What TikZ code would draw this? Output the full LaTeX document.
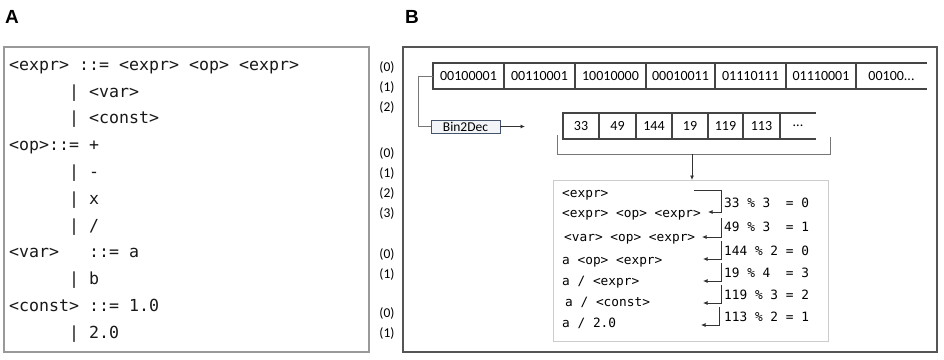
\documentclass[tikz,border=0pt]{standalone}
\usepackage{fontspec}
\setmainfont{Carlito}
\newfontfamily\codefont{DejaVu Sans Mono}
\newfontfamily\headfont{Liberation Sans}
\usetikzlibrary{arrows.meta}
\definecolor{arrline}{HTML}{444444}
\definecolor{conn}{HTML}{777777}
\definecolor{boxA}{HTML}{999999}
\definecolor{boxB}{HTML}{555555}
\definecolor{derivbox}{HTML}{CCCCCC}
\definecolor{bdborder}{HTML}{44546A}
\definecolor{bdfill}{HTML}{F2F4F7}
\begin{document}
\begin{tikzpicture}[x=1pt,y=-1pt,
  head/.style={font=\headfont\bfseries\fontsize{19}{19}\selectfont, inner sep=0pt},
  codeA/.style={font=\codefont\fontsize{16.6}{18}\selectfont, anchor=base west, inner sep=0pt, text=black!90},
  numlab/.style={font=\fontsize{13.5}{14}\selectfont, inner sep=0pt},
  cell/.style={font=\fontsize{14}{15}\selectfont, inner sep=0pt},
  codeB/.style={font=\codefont\fontsize{12.8}{14}\selectfont, anchor=base west, inner sep=0pt},
  arr/.style={draw=arrline, line width=1.1pt},
  tip/.style={-{Latex[length=4.5pt,width=4pt]}},
  brk/.style={draw=black!80, line width=0.8pt, tip}
]
\useasboundingbox (0,0) rectangle (944,359);
\fill[white] (0,0) rectangle (944,359);

% headings
\node[head] (hA) at (12,16.5) {A};
\node[head] (hB) at (412,16.5) {B};

% ---------- Panel A ----------
\draw[boxA, line width=1.3pt] (4,47) rectangle (369,352);
\node[codeA] (a1) at (9,70.5) {<expr>~::=~<expr>~<op>~<expr>};
\node[codeA] (a2) at (9,97) {~~~~~~|~<var>};
\node[codeA] (a3) at (9,123.5) {~~~~~~|~<const>};
\node[codeA] (a4) at (9,150.5) {<op>::=~+};
\node[codeA] (a5) at (9,177) {~~~~~~|~-};
\node[codeA] (a6) at (9,204) {~~~~~~|~x};
\node[codeA] (a7) at (9,231) {~~~~~~|~/};
\node[codeA] (a8) at (9,257.5) {<var>~~~::=~a};
\node[codeA] (a9) at (9,284.5) {~~~~~~|~b};
\node[codeA] (a10) at (9,311) {<const>~::=~1.0};
\node[codeA] (a11) at (9,338) {~~~~~~|~2.0};

% rule indices
\node[numlab] (n1) at (387,67) {(0)};
\node[numlab] (n2) at (387,87) {(1)};
\node[numlab] (n3) at (387,107) {(2)};
\node[numlab] (n4) at (387,153) {(0)};
\node[numlab] (n5) at (387,173) {(1)};
\node[numlab] (n6) at (387,193) {(2)};
\node[numlab] (n7) at (387,213) {(3)};
\node[numlab] (n8) at (387,254) {(0)};
\node[numlab] (n9) at (387,274) {(1)};
\node[numlab] (n10) at (387,313) {(0)};
\node[numlab] (n11) at (387,333) {(1)};

% ---------- Panel B ----------
\draw[boxB, line width=1.3pt] (403,47) rectangle (937,352);

% binary array
\draw[arr] (927,63) -- (433,63) -- (433,89) -- (927,89);
\foreach \x in {504,575,646,715,786,856} \draw[arr] (\x,63) -- (\x,89);
\node[cell] (b1) at (468.5,76) {00100001};
\node[cell] (b2) at (539.5,76) {00110001};
\node[cell] (b3) at (610.5,76) {10010000};
\node[cell] (b4) at (680.5,76) {00010011};
\node[cell] (b5) at (750.5,76) {01110111};
\node[cell] (b6) at (821,76) {01110001};
\node[cell] (b7) at (891.5,76) {00100...};
\coordinate (binL) at (433,76);

% Bin2Dec
\node[draw=bdborder, fill=bdfill, line width=0.8pt, minimum width=69pt, minimum height=13pt,
      inner sep=0pt, font=\fontsize{13.5}{14}\selectfont] (b2d) at (465.5,126.5) {Bin2Dec};
\draw[conn, line width=0.9pt] (binL) -- (418,76) |- (b2d.west);
\coordinate (decIn) at (525,126.5);
\draw[black!80, line width=0.8pt, tip] (b2d.east) -- (decIn);

% decimal array
\draw[arr] (816,113) -- (563,113) -- (563,139) -- (816,139);
\foreach \x in {599,636,672,708,743,780} \draw[arr] (\x,113) -- (\x,139);
\node[cell] (c1) at (581,126) {33};
\node[cell] (c2) at (617.5,126) {49};
\node[cell] (c3) at (654,126) {144};
\node[cell] (c4) at (690,126) {19};
\node[cell] (c5) at (725.5,126) {119};
\node[cell] (c6) at (761.5,126) {113};
\node[cell] (c7) at (798,126) {...};

% bracket and arrow down
\draw[conn, line width=0.9pt] (557,135) -- (557,154) -- (830,154) -- (830,137);
\coordinate (brMid) at (692,154);

% derivation box
\draw[derivbox, line width=1pt] (553,180) rectangle (828,341);
\coordinate (dTop) at (692,180);
\draw[black!80, line width=0.8pt, tip] (brMid) -- (dTop);

\node[codeB] (d1) at (562,197) {<expr>};
\node[codeB] (d2) at (562,217) {<expr>~<op>~<expr>};
\node[codeB] (d3) at (564,241) {<var>~<op>~<expr>};
\node[codeB] (d4) at (562,264) {a~<op>~<expr>};
\node[codeB] (d5) at (562,285) {a~/~<expr>};
\node[codeB] (d6) at (565,306) {a~/~<const>};
\node[codeB] (d7) at (562,327) {a~/~2.0};

\node[codeB] (r1) at (724,207.5) {33~\%~3~~=~0};
\node[codeB] (r2) at (724,231.5) {49~\%~3~~=~1};
\node[codeB] (r3) at (724,255.5) {144~\%~2~=~0};
\node[codeB] (r4) at (724,277.5) {19~\%~4~~=~3};
\node[codeB] (r5) at (724,299.5) {119~\%~3~=~2};
\node[codeB] (r6) at (724,321.5) {113~\%~2~=~1};

% step arrows
\coordinate (s1a) at (694,190); \coordinate (s1t) at (708,212);
\coordinate (s2a) at (721,218); \coordinate (s2t) at (702,237);
\coordinate (s3a) at (721,241); \coordinate (s3t) at (703,259);
\coordinate (s4a) at (721,263); \coordinate (s4t) at (703,281);
\coordinate (s5a) at (721,285); \coordinate (s5t) at (703,303);
\coordinate (s6a) at (719,307); \coordinate (s6t) at (701,325);
\draw[brk] (s1a) -- (721,190) |- (s1t);
\draw[brk] (s2a) |- (s2t);
\draw[brk] (s3a) |- (s3t);
\draw[brk] (s4a) |- (s4t);
\draw[brk] (s5a) |- (s5t);
\draw[brk] (s6a) |- (s6t);
\end{tikzpicture}
\end{document}
